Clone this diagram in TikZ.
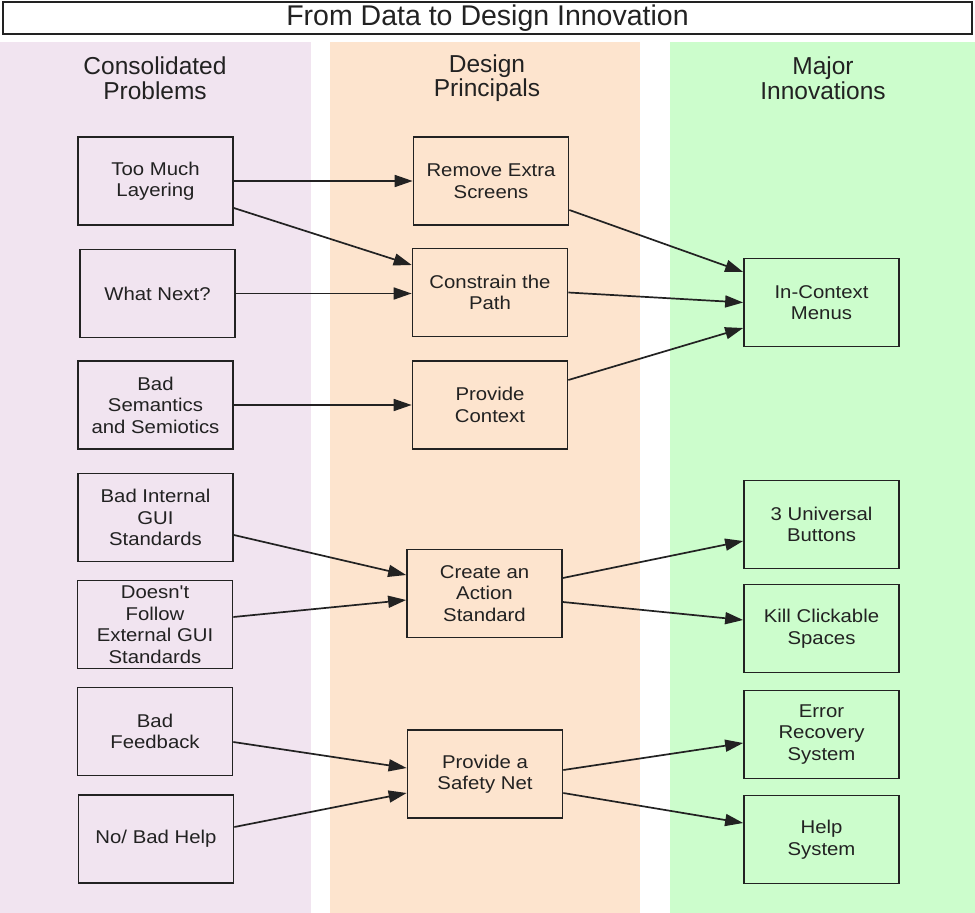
\documentclass[tikz,border=0pt]{standalone}
\usepackage{fontspec}
\setmainfont{Liberation Sans}
\newfontfamily\boxfont[FakeStretch=1.1]{Liberation Sans}
\usetikzlibrary{arrows.meta}
\definecolor{probcol}{HTML}{F1E4F0}
\definecolor{princol}{HTML}{FDE4CE}
\definecolor{innocol}{HTML}{CCFDCC}
\definecolor{inkcol}{HTML}{222222}
\tikzset{
  stepbox/.style={draw=inkcol, line width=1.7pt, minimum width=155pt, minimum height=88pt,
    inner sep=0pt, align=center, text=inkcol, font=\boxfont\fontsize{18.5}{21.5}\selectfont},
  header/.style={align=center, text=inkcol, font=\fontsize{24.5}{24.5}\selectfont},
  link/.style={draw=inkcol, line width=1.7pt, -{Triangle[length=18pt,width=12pt]}},
}
\begin{document}
\begin{tikzpicture}[x=1pt,y=-1pt]
\useasboundingbox (0,0) rectangle (975,913);
\fill[white] (0,0) rectangle (975,913);

% column backgrounds
\fill[probcol] (0,42) rectangle (311,913);
\fill[princol] (330,42) rectangle (640,913);
\fill[innocol] (670,42) rectangle (975,913);

% title bar
\node[draw=inkcol, line width=1.5pt, minimum width=969pt, minimum height=32pt, inner sep=0pt,
  text=inkcol, font=\fontsize{28.5}{30}\selectfont] (title) at (487.5,18) {From Data to Design Innovation};

% column headings
\node[header] (h1) at (155,78) {Consolidated\\Problems};
\node[header] (h2) at (487,78) {Design\\Principals};
\node[header] (h3) at (823,78) {Major\\Innovations};

% problems
\node[stepbox] (tml)  at (155.5,181)   {Too Much\\Layering};
\node[stepbox] (wn)   at (157.5,293.5) {What Next?};
\node[stepbox] (bss)  at (155.5,405)   {Bad\\Semantics\\and Semiotics};
\node[stepbox] (bigs) at (155.5,517.5) {Bad Internal\\GUI\\Standards};
\node[stepbox] (dfe)  at (155,624.5)   {Doesn{\char39}t\\Follow\\External GUI\\Standards};
\node[stepbox] (bf)   at (155,731.5)   {Bad\\Feedback};
\node[stepbox] (nbh)  at (156,839)     {No/ Bad Help};

% principles
\node[stepbox] (res) at (491,181)   {Remove Extra\\Screens};
\node[stepbox] (ctp) at (490,292.5) {Constrain the\\Path};
\node[stepbox] (pc)  at (490,405)   {Provide\\Context};
\node[stepbox] (cas) at (484.5,593.5) {Create an\\Action\\Standard};
\node[stepbox] (psn) at (485,774)   {Provide a\\Safety Net};

% innovations
\node[stepbox] (icm) at (821.5,302.5) {In-Context\\Menus};
\node[stepbox] (tub) at (821.5,524.5) {3 Universal\\Buttons};
\node[stepbox] (kcs) at (821.5,628.5) {Kill Clickable\\Spaces};
\node[stepbox] (ers) at (821.5,734.5) {Error\\Recovery\\System};
\node[stepbox] (hs)  at (821.5,839.5) {Help\\System};

% problems -> principles
\draw[link] (tml.east) -- (res.west);
\draw[link] ([yshift=-27pt]tml.east) -- ([yshift=27.5pt]ctp.west);
\draw[link] (wn.east) -- (wn.east -| ctp.west);
\draw[link] (bss.east) -- (pc.west);
\draw[link] ([yshift=-17.5pt]bigs.east) -- ([yshift=18.5pt]cas.west);
\draw[link] ([yshift=7.5pt]dfe.east) -- ([yshift=-6.5pt]cas.west);
\draw[link] ([yshift=-10.5pt]bf.east) -- ([yshift=6pt]psn.west);
\draw[link] ([yshift=12pt]nbh.east) -- ([yshift=-19pt]psn.west);

% principles -> innovations
\draw[link] ([yshift=-29pt]res.east) -- ([yshift=30.5pt]icm.west);
\draw[link] (ctp.east) -- (icm.west);
\draw[link] ([yshift=25pt]pc.east) -- ([yshift=-25.5pt]icm.west);
\draw[link] ([yshift=15.5pt]cas.east) -- ([yshift=-16.5pt]tub.west);
\draw[link] ([yshift=-8.5pt]cas.east) -- ([yshift=8.5pt]kcs.west);
\draw[link] ([yshift=4pt]psn.east) -- ([yshift=-8.5pt]ers.west);
\draw[link] ([yshift=-19pt]psn.east) -- ([yshift=16.5pt]hs.west);
\end{tikzpicture}
\end{document}
